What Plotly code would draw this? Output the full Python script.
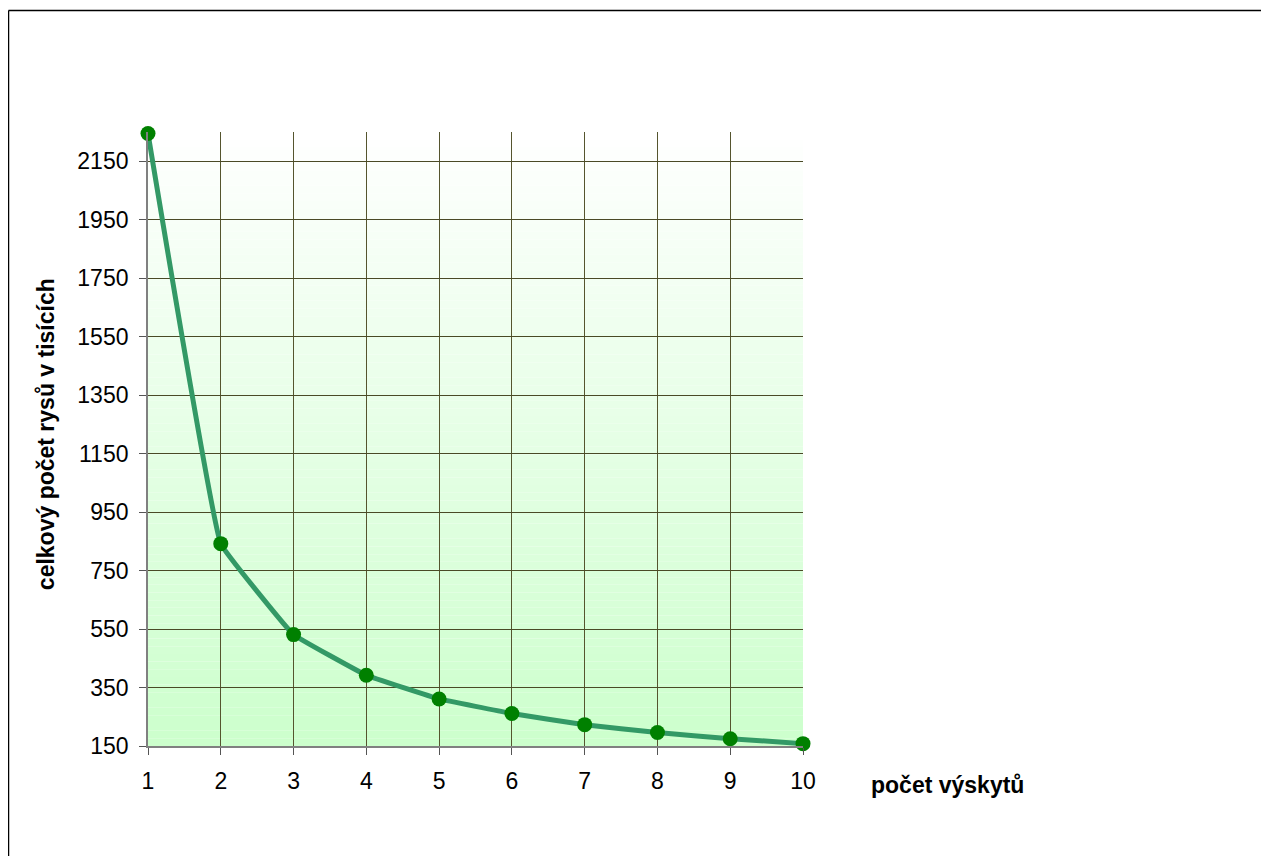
import plotly.graph_objects as go

occurrences = [1, 2, 3, 4, 5, 6, 7, 8, 9, 10]
total_features_thousands = [2245, 842, 531, 392, 311, 261, 223, 196, 175, 158]
y_ticks = [150, 350, 550, 750, 950, 1150, 1350, 1550, 1750, 1950, 2150]
x_title = "počet výskytů"
y_title = "celkový počet rysů v tisících"

# page has an 8px body margin; work in figure coordinates
OFF = 8
W, H = 1269 - OFF, 856 - OFF
L, T = 148 - OFF, 132 - OFF
R = W - (803 - OFF)
B = H - (745.7 - OFF)

fig = go.Figure()
fig.add_trace(go.Scatter(
    x=occurrences, y=total_features_thousands, mode="lines+markers",
    line=dict(color="#339966", width=5, shape="spline", smoothing=0.2),
    marker=dict(color="#008000", size=15),
    cliponaxis=False, showlegend=False, hoverinfo="x+y"))

# vertical gradient background of the plot area
shapes = []
n = 80
top = (255, 255, 255)
bot = (204, 255, 204)
for i in range(n):
    f = (i + 0.5) / n
    c = tuple(round(top[k] + (bot[k] - top[k]) * f) for k in range(3))
    shapes.append(dict(type="rect", xref="paper", yref="paper",
                       x0=0, x1=1, y0=1 - (i + 1) / n, y1=1 - i / n,
                       fillcolor="rgb(%d,%d,%d)" % c, line=dict(width=0),
                       layer="below"))

pw = W - L - R
ph = H - T - B
def px_x(p):
    return (p - OFF - L) / pw
def px_y(p):
    return (H - B - (p - OFF)) / ph

# outer chart border (top and left visible)
shapes.append(dict(type="line", xref="paper", yref="paper",
                   x0=px_x(8.5), x1=px_x(1290), y0=px_y(10.5), y1=px_y(10.5),
                   line=dict(color="black", width=1.5)))
shapes.append(dict(type="line", xref="paper", yref="paper",
                   x0=px_x(8.5), x1=px_x(8.5), y0=px_y(10.5), y1=px_y(880),
                   line=dict(color="black", width=1.5)))

font = "Liberation Sans, Arial, sans-serif"
fig.update_layout(
    width=W, height=H, margin=dict(l=L, r=R, t=T, b=B),
    paper_bgcolor="white", plot_bgcolor="rgba(0,0,0,0)",
    shapes=shapes,
    font=dict(family=font, size=23, color="black"),
    xaxis=dict(range=[1, 10], tickvals=occurrences, showgrid=True,
               gridcolor="#55552e", gridwidth=1.3, showline=True,
               linecolor="#808080", linewidth=1.8, ticks="outside",
               ticklen=7, tickcolor="#555555", zeroline=False,
               ticklabelstandoff=6),
    yaxis=dict(range=[150, 2250], tickvals=y_ticks, showgrid=True,
               gridcolor="#4a4a26", gridwidth=1.3, showline=True,
               linecolor="#808080", linewidth=1.8, ticks="outside",
               ticklen=7, tickcolor="#555555", zeroline=False,
               ticklabelstandoff=6),
    annotations=[
        dict(text="<b>%s</b>" % x_title, xref="paper", yref="paper",
             x=px_x(947), y=px_y(785), xanchor="center", yanchor="middle",
             showarrow=False, font=dict(size=23, family=font)),
        dict(text="<b>%s</b>" % y_title, xref="paper", yref="paper",
             x=px_x(46), y=px_y(434), xanchor="center", yanchor="middle",
             textangle=-90, showarrow=False, font=dict(size=23, family=font)),
    ],
)

fig.write_html("out.html")
